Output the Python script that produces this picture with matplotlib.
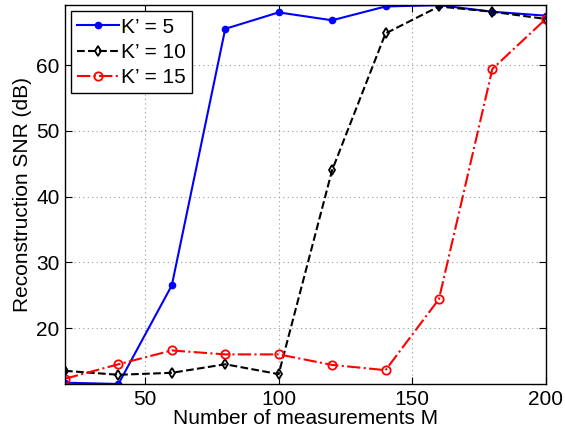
import numpy as np
import matplotlib
matplotlib.use('Agg')
import matplotlib.pyplot as plt

plt.rcParams['font.family'] = ['Liberation Sans', 'DejaVu Sans']

M = [20, 40, 60, 80, 100, 120, 140, 160, 180, 200]
snr_k5 = [11.7, 11.5, 26.5, 65.5, 68.0, 66.8, 68.9, 69.1, 68.1, 67.5]
snr_k10 = [13.5, 12.9, 13.2, 14.5, 13.0, 44.0, 64.8, 68.9, 68.1, 67.0]
snr_k15 = [12.3, 14.5, 16.6, 16.0, 16.0, 14.4, 13.6, 24.4, 59.4, 67.0]
labels = ["K\u2019 = 5", "K\u2019 = 10", "K\u2019 = 15"]

fig = plt.figure(figsize=(5.65, 4.3), dpi=100)
ax = fig.add_axes([0.115, 0.107, 0.851, 0.881])

ax.plot(M, snr_k5, 'b-', marker='.', ms=9, lw=1.5, label=labels[0])
ax.plot(M, snr_k10, 'k--', marker='d', ms=5, mfc='none', mew=1.3, lw=1.5, label=labels[1])
ax.plot(M, snr_k15, 'r-.', marker='o', ms=6, mfc='none', mew=1.3, lw=1.5, label=labels[2])

allv = np.concatenate([snr_k5, snr_k10, snr_k15])
ax.set_xlim(20, 200)
ax.set_ylim(allv.min(), allv.max())
ax.set_xticks([50, 100, 150, 200])
ax.set_yticks([20, 30, 40, 50, 60])
ax.tick_params(direction='in', labelsize=15, top=True, right=True, length=5, pad=4)
ax.grid(True, linestyle=(0, (1, 3)), color='#999999', lw=0.8)
for s in ax.spines.values():
    s.set_linewidth(1.0)

ax.set_xlabel('Number of measurements M', fontsize=15, labelpad=0)
ax.set_ylabel('Reconstruction SNR (dB)', fontsize=15, labelpad=3)

leg = ax.legend(loc='upper left', fontsize=15, fancybox=False, framealpha=1,
                edgecolor='k', borderaxespad=0.3, handlelength=2.0,
                handletextpad=0.1, labelspacing=0.3, borderpad=0.3)
leg.get_frame().set_linewidth(1.0)

fig.savefig('out.png', dpi=100)
